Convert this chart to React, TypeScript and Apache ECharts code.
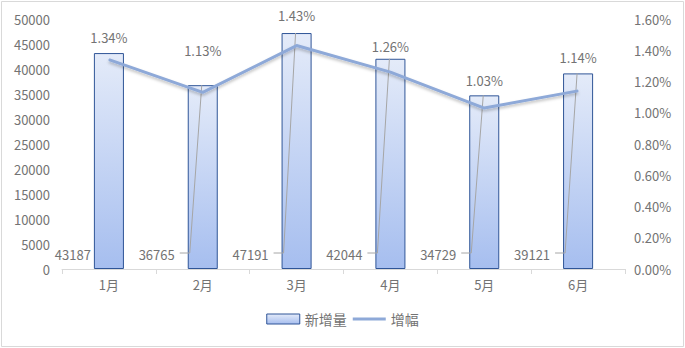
import React, { useEffect, useRef } from "react";
import * as echarts from "echarts";

const months = ["1月", "2月", "3月", "4月", "5月", "6月"];
const newIncrease = [43187, 36765, 47191, 42044, 34729, 39121];
const growthPct = [1.34, 1.13, 1.43, 1.26, 1.03, 1.14];
const leftTicks = { min: 0, max: 50000, interval: 5000 };
const rightTicks = { min: 0, max: 1.6, interval: 0.2 };

// layout-only helpers (not data)
const pctLabelDistance = [15, 35, 23, 19, 21, 26];
const leaderShown = [false, true, true, true, true, true];

const TEXT = "#737373";
const FONT = "'Noto Sans CJK SC', 'Noto Sans', sans-serif";

export default function App() {
  const ref = useRef<HTMLDivElement>(null);
  useEffect(() => {
    document.body.style.margin = "0";
    const chart = echarts.init(ref.current!, undefined, { renderer: "svg" });
    const barWidthRatio = 0.32;
    chart.setOption({
      animation: false,
      textStyle: { fontFamily: FONT },
      graphic: [
        {
          type: "rect",
          shape: { x: 1.5, y: 1.5, width: 682, height: 345 },
          style: { fill: "none", stroke: "#D9D9D9", lineWidth: 1 },
          silent: true,
        },
      ],
      grid: { left: 62, right: 60, top: 19, bottom: 79 },
      legend: {
        bottom: 17,
        left: "center",
        itemGap: 6,
        itemWidth: 33,
        itemHeight: 10,
        textStyle: { color: TEXT, fontSize: 14, fontFamily: FONT },
        data: [
          { name: "新增量", icon: "rect", itemStyle: { borderWidth: 1 } },
          { name: "增幅", icon: "path://M0,0H35V3H0Z" },
        ],
      },
      xAxis: {
        type: "category",
        data: months,
        axisLine: { lineStyle: { color: "#D9D9D9" } },
        axisTick: { show: true, length: 5, lineStyle: { color: "#D9D9D9" } },
        axisLabel: { color: TEXT, fontSize: 13, margin: 9 },
      },
      yAxis: [
        {
          type: "value",
          min: leftTicks.min,
          max: leftTicks.max,
          interval: leftTicks.interval,
          splitLine: { show: false },
          axisLine: { show: false },
          axisLabel: {
            color: TEXT,
            fontSize: 13,
            margin: 12,
            formatter: (v: number) => String(v),
          },
        },
        {
          type: "value",
          min: rightTicks.min,
          max: rightTicks.max,
          interval: rightTicks.interval,
          splitLine: { show: false },
          axisLine: { show: false },
          axisLabel: {
            color: TEXT,
            fontSize: 13,
            margin: 9,
            formatter: (v: number) => v.toFixed(2) + "%",
          },
        },
      ],
      series: [
        {
          name: "新增量",
          type: "bar",
          data: newIncrease,
          barWidth: barWidthRatio * 100 + "%",
          itemStyle: {
            color: new echarts.graphic.LinearGradient(0, 0, 0, 1, [
              { offset: 0, color: "#E4EBF9" },
              { offset: 1, color: "#A6BEEF" },
            ]),
            borderColor: "#2F5597",
            borderWidth: 1,
          },
          label: {
            show: true,
            position: "insideBottom",
            color: TEXT,
            fontSize: 13,
            fontFamily: FONT,
          },
          labelLayout: (p: any) => ({
            x: p.rect.x - (p.dataIndex === 0 ? 3 : 13),
            y: p.rect.y + p.rect.height - 15,
            align: "right",
            verticalAlign: "middle",
          }),
          z: 2,
        },
        {
          name: "leader",
          type: "custom",
          data: newIncrease.map((v, i) => [i, v]),
          z: 3,
          silent: true,
          renderItem: (params: any, api: any) => {
            const idx = api.value(0);
            if (!leaderShown[idx]) return null;
            const top = api.coord([idx, api.value(1)]);
            const base = api.coord([idx, 0]);
            const bw = api.size([1, 0])[0] * barWidthRatio;
            const left = top[0] - bw / 2;
            const y = base[1] - 16;
            return {
              type: "polyline",
              shape: {
                points: [
                  [left - 8, y],
                  [left + 2, y],
                  [top[0] - 1, top[1]],
                ],
              },
              style: { stroke: "#A6A6A6", lineWidth: 1, fill: "none" },
            };
          },
        },
        {
          name: "增幅",
          type: "line",
          yAxisIndex: 1,
          data: growthPct.map((v, i) => ({
            value: v,
            label: { distance: pctLabelDistance[i] },
          })),
          symbol: "circle",
          symbolSize: 1,
          itemStyle: { color: "#8EA9D8" },
          lineStyle: {
            color: "#8EA9D8",
            width: 3,
            shadowColor: "rgba(0,0,0,0.25)",
            shadowBlur: 3,
            shadowOffsetY: 2,
          },
          label: {
            show: true,
            position: "top",
            color: TEXT,
            fontSize: 13,
            fontFamily: FONT,
            formatter: (p: any) => Number(p.value).toFixed(2) + "%",
          },
          z: 4,
        },
      ],
    });
    return () => chart.dispose();
  }, []);
  return <div ref={ref} style={{ width: 685, height: 348 }} />;
}
